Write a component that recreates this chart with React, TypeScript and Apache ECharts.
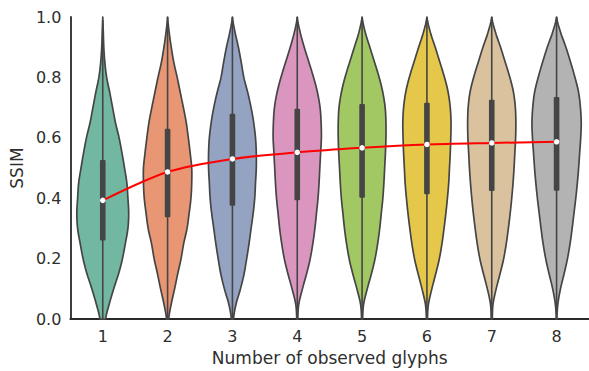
import React, { useEffect, useRef } from "react";
import * as echarts from "echarts";

const categories = ["1", "2", "3", "4", "5", "6", "7", "8"];
const yTicks = [0, 0.2, 0.4, 0.6, 0.8, 1.0];

// SSIM levels at which the violin density (relative width) was read
const densityLevels = [0, 0.05, 0.1, 0.15, 0.2, 0.25, 0.3, 0.35, 0.4, 0.45, 0.5, 0.55, 0.6, 0.65, 0.7, 0.75, 0.8, 0.85, 0.9, 0.95, 1.0];

const violin1 = [0.11, 0.25, 0.42, 0.61, 0.76, 0.87, 0.97, 1.0, 0.97, 0.93, 0.84, 0.74, 0.63, 0.49, 0.38, 0.27, 0.15, 0.08, 0.04, 0.02, 0];
const violin2 = [0.04, 0.14, 0.27, 0.39, 0.52, 0.62, 0.75, 0.83, 0.9, 0.93, 0.93, 0.87, 0.8, 0.72, 0.61, 0.49, 0.37, 0.24, 0.14, 0.06, 0];
const violin3 = [0.04, 0.14, 0.31, 0.45, 0.55, 0.64, 0.72, 0.8, 0.86, 0.89, 0.92, 0.92, 0.89, 0.82, 0.72, 0.59, 0.44, 0.34, 0.23, 0.1, 0];
const violin4 = [0.02, 0.06, 0.2, 0.36, 0.5, 0.6, 0.68, 0.74, 0.8, 0.84, 0.87, 0.9, 0.93, 0.92, 0.88, 0.78, 0.63, 0.45, 0.27, 0.11, 0];
const violin5 = [0.02, 0.06, 0.2, 0.36, 0.5, 0.6, 0.68, 0.74, 0.8, 0.84, 0.87, 0.9, 0.92, 0.92, 0.89, 0.8, 0.66, 0.48, 0.3, 0.12, 0];
const violin6 = [0.02, 0.06, 0.19, 0.34, 0.48, 0.58, 0.66, 0.73, 0.79, 0.84, 0.87, 0.9, 0.92, 0.93, 0.9, 0.82, 0.68, 0.5, 0.32, 0.13, 0];
const violin7 = [0.02, 0.05, 0.17, 0.32, 0.46, 0.56, 0.64, 0.71, 0.77, 0.82, 0.86, 0.89, 0.92, 0.93, 0.91, 0.84, 0.7, 0.52, 0.34, 0.14, 0];
const violin8 = [0.01, 0.05, 0.15, 0.29, 0.42, 0.52, 0.6, 0.67, 0.74, 0.8, 0.85, 0.89, 0.93, 0.95, 0.92, 0.85, 0.71, 0.54, 0.36, 0.15, 0];
const densities = [violin1, violin2, violin3, violin4, violin5, violin6, violin7, violin8];

const q1 = [0.26, 0.337, 0.375, 0.393, 0.402, 0.413, 0.424, 0.425];
const q3 = [0.527, 0.63, 0.68, 0.696, 0.712, 0.716, 0.726, 0.735];
const medians = [0.393, 0.487, 0.53, 0.552, 0.567, 0.578, 0.583, 0.587];
const whiskerLow = [0, 0, 0, 0, 0, 0, 0, 0];
const whiskerHigh = [0.99, 1.0, 1.0, 1.0, 1.0, 1.0, 1.0, 1.0];

const fillColors = ["#71b7a1", "#e99675", "#95a3c3", "#db96c0", "#a2c864", "#e5c849", "#dbc29e", "#b3b3b3"];
const edgeColor = "#454545";

function sampleCurve(levels: number[], vals: number[], steps: number) {
  const out: { v: number; w: number }[] = [];
  const n = vals.length;
  for (let j = 0; j < n - 1; j++) {
    const p0 = vals[Math.max(0, j - 1)];
    const p1 = vals[j];
    const p2 = vals[j + 1];
    const p3 = vals[Math.min(n - 1, j + 2)];
    for (let s = 0; s < steps; s++) {
      const t = s / steps;
      const w =
        0.5 *
        (2 * p1 +
          (-p0 + p2) * t +
          (2 * p0 - 5 * p1 + 4 * p2 - p3) * t * t +
          (-p0 + 3 * p1 - 3 * p2 + p3) * t * t * t);
      out.push({ v: levels[j] + (levels[j + 1] - levels[j]) * t, w: Math.max(0, w) });
    }
  }
  out.push({ v: levels[n - 1], w: Math.max(0, vals[n - 1]) });
  return out;
}

export default function App() {
  const ref = useRef<HTMLDivElement>(null);
  useEffect(() => {
    document.body.style.margin = "0";
    const chart = echarts.init(ref.current!, null, { renderer: "svg" });
    const textColor = "#2e2e2e";
    chart.setOption({
      animation: false,
      backgroundColor: "#ffffff",
      grid: { left: 70, top: 17, width: 526, height: 306, containLabel: false },
      xAxis: {
        type: "category",
        data: categories,
        boundaryGap: true,
        axisLine: { show: true, lineStyle: { color: "#2a2a2a", width: 1.8 } },
        axisTick: { show: false },
        axisLabel: { color: textColor, fontSize: 16, fontFamily: "DejaVu Sans", margin: 9 },
        name: "Number of observed glyphs",
        nameLocation: "middle",
        nameGap: 27,
        nameTextStyle: { color: textColor, fontSize: 17, fontFamily: "DejaVu Sans" },
        splitLine: { show: false },
      },
      yAxis: {
        type: "value",
        min: 0,
        max: 1,
        interval: 0.2,
        axisLine: { show: true, lineStyle: { color: "#2a2a2a", width: 1.8 } },
        axisTick: { show: false },
        splitLine: { show: false },
        axisLabel: {
          color: textColor,
          fontSize: 16,
          fontFamily: "DejaVu Sans",
          margin: 9,
          formatter: (v: number) => (yTicks.some((t) => Math.abs(t - v) < 1e-9) ? v.toFixed(1) : ""),
        },
        name: "SSIM",
        nameLocation: "middle",
        nameGap: 40,
        nameTextStyle: { color: textColor, fontSize: 17, fontFamily: "DejaVu Sans" },
      },
      series: [
        {
          type: "custom",
          data: categories.map((_, i) => [i]),
          z: 2,
          renderItem: (params: any, api: any) => {
            const i = api.value(0);
            const band = api.size([1, 0])[0];
            const maxHalf = band * 0.4;
            const cx = api.coord([i, 0])[0];
            const samples = sampleCurve(densityLevels, densities[i], 6);
            const left: number[][] = [];
            const right: number[][] = [];
            for (const s of samples) {
              const y = api.coord([i, s.v])[1];
              left.push([cx - s.w * maxHalf, y]);
              right.push([cx + s.w * maxHalf, y]);
            }
            const points = left.concat(right.reverse());
            const yLow = api.coord([i, whiskerLow[i]])[1];
            const yHigh = api.coord([i, whiskerHigh[i]])[1];
            const yQ1 = api.coord([i, q1[i]])[1];
            const yQ3 = api.coord([i, q3[i]])[1];
            return {
              type: "group",
              children: [
                {
                  type: "polygon",
                  shape: { points },
                  style: { fill: fillColors[i], stroke: edgeColor, lineWidth: 1.7, lineJoin: "round" },
                },
                {
                  type: "line",
                  shape: { x1: cx, y1: yLow, x2: cx, y2: yHigh },
                  style: { stroke: edgeColor, lineWidth: 1.6 },
                },
                {
                  type: "rect",
                  shape: { x: cx - 2.8, y: yQ3, width: 5.6, height: yQ1 - yQ3, r: 1 },
                  style: { fill: edgeColor },
                },
              ],
            };
          },
        },
        {
          type: "line",
          data: medians,
          z: 5,
          smooth: 0.3,
          symbol: "circle",
          symbolSize: 5.5,
          showSymbol: true,
          lineStyle: { color: "#ff0000", width: 2 },
          itemStyle: { color: "#ffffff", borderWidth: 0 },
        },
      ],
    });
    return () => chart.dispose();
  }, []);
  return (
    <div
      ref={ref}
      style={{ position: "fixed", left: 0, top: 0, width: 589, height: 371 }}
    />
  );
}
